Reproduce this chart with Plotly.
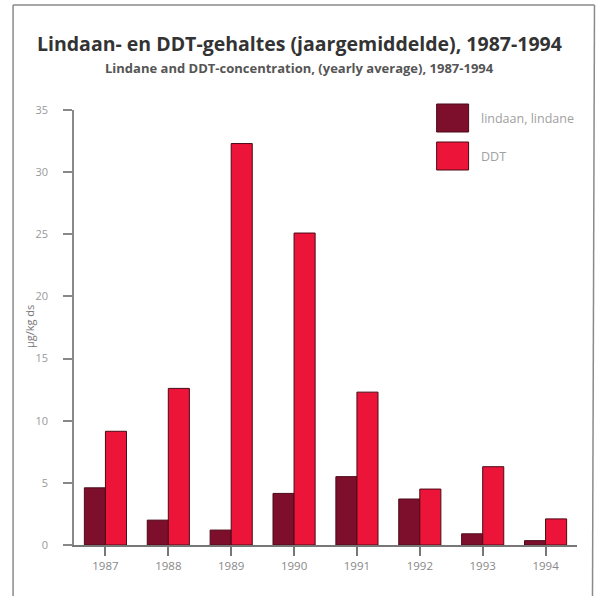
import plotly.graph_objects as go

years = ["1987", "1988", "1989", "1990", "1991", "1992", "1993", "1994"]
lindane = [4.6, 2.0, 1.2, 4.15, 5.5, 3.7, 0.9, 0.35]
ddt = [9.15, 12.6, 32.3, 25.1, 12.3, 4.5, 6.3, 2.1]
series_names = ["lindaan, lindane", "DDT"]
y_ticks = [0, 5, 10, 15, 20, 25, 30, 35]

C_LIN = "#7e0f2c"
C_DDT = "#ec1438"
C_EDGE = "#4a0a16"

W, H = 601, 596
L, R, T, B = 74, 577.5, 110, 545


def px(x):
    return (x - L) / (R - L)


def py(y):
    return (B - y) / (B - T)


fig = go.Figure()
fig.add_trace(go.Bar(x=years, y=lindane, name=series_names[0],
                     marker=dict(color=C_LIN, line=dict(color=C_EDGE, width=1))))
fig.add_trace(go.Bar(x=years, y=ddt, name=series_names[1],
                     marker=dict(color=C_DDT, line=dict(color=C_EDGE, width=1))))

shapes = []
# frame
frame = dict(type="line", xref="paper", yref="paper", line=dict(color="#8a8a8a", width=1.5))
shapes.append({**frame, "x0": px(13), "x1": px(13), "y0": py(5), "y1": py(600)})
shapes.append({**frame, "x0": px(13), "x1": px(595), "y0": py(5), "y1": py(5)})
shapes.append({**frame, "x0": px(595), "x1": px(593), "y0": py(5), "y1": py(600)})
# legend swatches
for i, (c, name) in enumerate(zip([C_LIN, C_DDT], series_names)):
    y0 = 104 + i * 38
    shapes.append(dict(type="rect", xref="paper", yref="paper",
                       x0=px(437), x1=px(469), y0=py(y0), y1=py(y0 + 28),
                       fillcolor=c, line=dict(color=C_EDGE, width=1)))

annotations = [
    dict(text="<b>Lindaan- en DDT-gehaltes (jaargemiddelde), 1987-1994</b>",
         xref="paper", yref="paper", x=px(300), y=py(44), showarrow=False,
         font=dict(family="Open Sans", size=19.5, color="#333333"), xanchor="center", yanchor="middle"),
    dict(text="<b>Lindane and DDT-concentration, (yearly average), 1987-1994</b>",
         xref="paper", yref="paper", x=px(300), y=py(68), showarrow=False,
         font=dict(family="Open Sans", size=13, color="#555555"), xanchor="center", yanchor="middle"),
    dict(text="µg/kg ds", xref="paper", yref="paper", x=px(29), y=py(327), showarrow=False,
         textangle=-90, font=dict(family="Open Sans", size=11, color="#777777"),
         xanchor="center", yanchor="middle"),
]
for i, name in enumerate(series_names):
    annotations.append(dict(text=name, xref="paper", yref="paper", x=px(479), y=py(118 + i * 38),
                            showarrow=False, xanchor="left", yanchor="middle",
                            font=dict(family="Open Sans", size=12.5, color="#a0a0a0")))

fig.update_layout(
    width=W, height=H,
    margin=dict(l=L, r=W - R, t=T, b=H - B, pad=0),
    paper_bgcolor="white", plot_bgcolor="white",
    showlegend=False,
    barmode="group", bargap=0.33, bargroupgap=0,
    shapes=shapes, annotations=annotations,
    font=dict(family="Open Sans", color="#888888", size=10),
)
fig.update_xaxes(type="category", range=[-0.5, 7.5], showline=True, linecolor="#777777", linewidth=1.5,
                 ticks="outside", ticklen=9, tickcolor="#777777", tickwidth=1.5,
                 tickfont=dict(size=11.5, color="#888888"), showgrid=False, zeroline=False)
fig.update_yaxes(range=[0, 35], tickvals=y_ticks, showline=True, linecolor="#888888", linewidth=1.5,
                 ticks="outside", ticklen=9, tickcolor="#888888", tickwidth=1.5, ticklabelstandoff=13,
                 tickfont=dict(size=11, color="#999999"), showgrid=False, zeroline=False)

fig.write_html("out.html", config={"displayModeBar": False},
               post_script="document.body.style.margin='0';document.body.style.overflow='hidden';")
